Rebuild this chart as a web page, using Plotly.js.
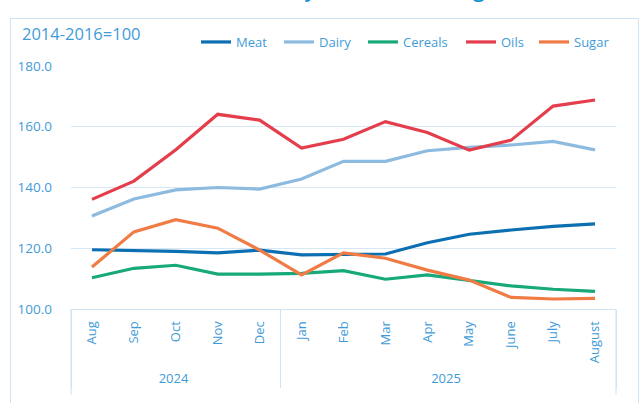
<!DOCTYPE html>
<html>
<head>
<meta charset="utf-8">
<script src="https://cdn.plot.ly/plotly-3.0.1.min.js"></script>
<style>
  html, body { margin: 0; padding: 0; background: #fff; overflow: hidden; }
  #wrap { position: relative; width: 643px; height: 403px; }
  #chart { position: absolute; left: 0; top: 0; width: 643px; height: 403px; }
  #frame { position: absolute; left: 10px; top: 18px; width: 629px; height: 400px;
           border: 1.5px solid #cfe3f3; pointer-events: none; box-sizing: border-box; }
</style>
</head>
<body>
<div id="wrap">
  <div id="chart"></div>
  <div id="frame"></div>
</div>
<script>
// ---- data ----
const years  = ['2024','2024','2024','2024','2024','2025','2025','2025','2025','2025','2025','2025','2025'];
const months = ['Aug','Sep','Oct','Nov','Dec','Jan','Feb','Mar','Apr','May','June','July','August'];
const meat    = [119.5, 119.3, 119.0, 118.5, 119.4, 117.8, 118.0, 118.1, 121.8, 124.6, 126.0, 127.2, 128.0];
const dairy   = [130.6, 136.2, 139.2, 140.0, 139.5, 142.8, 148.6, 148.6, 152.1, 153.2, 154.0, 155.2, 152.4];
const cereals = [110.3, 113.4, 114.4, 111.5, 111.5, 111.7, 112.6, 109.8, 111.2, 109.3, 107.6, 106.5, 105.8];
const oils    = [136.1, 142.1, 152.4, 164.1, 162.2, 153.0, 155.9, 161.7, 158.1, 152.3, 155.6, 166.8, 168.8];
const sugar   = [113.8, 125.4, 129.4, 126.6, 119.4, 111.2, 118.5, 116.7, 112.8, 109.5, 103.8, 103.3, 103.5];
const seriesNames = ['Meat','Dairy','Cereals','Oils','Sugar'];
const yTicks = [100, 120, 140, 160, 180];
const baseNote = '2014-2016=100';
const titleText = 'FAO Food Commodity Price Index (August 2024–2025)';

const colors = ['#0b6fb1', '#8dbbe0', '#17a97a', '#e43d4c', '#f07b45'];
const blue = '#3f9bd8';
const values = [meat, dairy, cereals, oils, sugar];
const legendIds = ['legend', 'legend2', 'legend3', 'legend4', 'legend5'];
const legendLeft = [196, 279, 363, 461, 534];

const traces = values.map((v, i) => ({
  type: 'scatter',
  mode: 'lines',
  name: seriesNames[i],
  legend: legendIds[i],
  x: [years, months],
  y: v,
  line: { color: colors[i], width: 3.2 },
  hoverinfo: 'none'
}));

const W = 643, H = 403, L = 71, R = 27, T = 66, B = 94;
const pw = W - L - R, ph = H - T - B;
const px = x => (x - L) / pw;
const py = y => (H - B - y) / ph;

const layout = {
  width: W, height: H,
  margin: { l: L, r: R, t: T, b: B, pad: 0 },
  paper_bgcolor: 'rgba(0,0,0,0)',
  plot_bgcolor: 'rgba(0,0,0,0)',
  font: { family: 'Open Sans, Noto Sans, sans-serif', color: blue, size: 13 },
  showlegend: true,
  xaxis: {
    type: 'multicategory',
    range: [-0.5, 12.5],
    tickangle: -90,
    tickfont: { size: 13, color: blue },
    showline: true, linecolor: '#cfe3f3', linewidth: 1,
    showdividers: true, dividercolor: '#cfe3f3', dividerwidth: 1,
    showgrid: false, ticks: '', automargin: false,
    ticklabelstandoff: 6
  },
  yaxis: {
    range: [100, 180], tickvals: yTicks, tickformat: '.1f',
    showgrid: true, gridcolor: '#d6e8f6', gridwidth: 1,
    zeroline: false, showline: false, ticks: '',
    ticklabelstandoff: 18,
    tickfont: { size: 13.5, color: blue }, automargin: false
  },
  shapes: [
    { type: 'line', xref: 'paper', yref: 'paper', x0: 0, x1: 0, y0: 0, y1: py(395),
      line: { color: '#cfe3f3', width: 1 } },
    { type: 'line', xref: 'paper', yref: 'paper', x0: 1, x1: 1, y0: 0, y1: py(395),
      line: { color: '#cfe3f3', width: 1 } }
  ],
  annotations: [
    { text: baseNote, xref: 'paper', yref: 'paper', x: px(20), y: py(33),
      xanchor: 'left', yanchor: 'middle', showarrow: false,
      font: { size: 16.5, color: blue } },
    { text: titleText, xref: 'paper', yref: 'paper', x: px(637), y: py(-11),
      xanchor: 'right', yanchor: 'middle', showarrow: false,
      font: { size: 21, color: '#1a96d2', weight: 600 } }
  ]
};

legendIds.forEach((id, i) => {
  layout[id] = {
    orientation: 'h', x: px(legendLeft[i]), y: py(42), xanchor: 'left', yanchor: 'middle',
    font: { size: 13, color: blue }, itemwidth: 30, bgcolor: 'rgba(0,0,0,0)', borderwidth: 0
  };
});

Plotly.newPlot('chart', traces, layout, { staticPlot: true, displayModeBar: false });
</script>
</body>
</html>
